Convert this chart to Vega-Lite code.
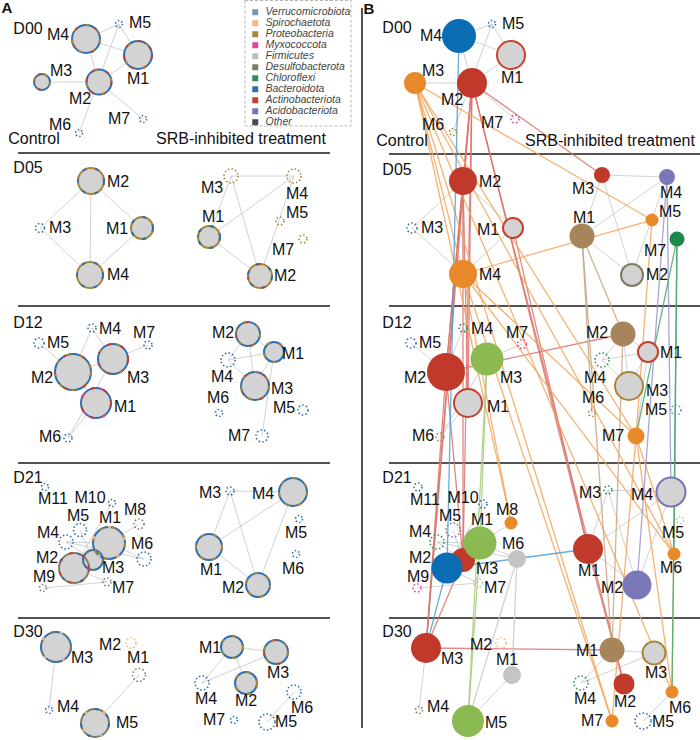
{
"$schema":"https://vega.github.io/schema/vega-lite/v6.json",
"width":700,"height":740,"autosize":{"type":"none"},"padding":0,"background":"white",
"config":{"view":{"stroke":null},"text":{"font":"Liberation Sans"}},
"resolve":{"scale":{"stroke":"independent"}},
"datasets":{
"nodes":[
{"id":"A00cM4","m":"M4","x":86,"y":39,"d":28,"k":"ring","c1":"Bacteroidota","c2":"Proteobacteria","c3":"Actinobacteriota","lx":58,"ly":35},
{"id":"A00cM5","m":"M5","x":119,"y":24,"d":7,"k":"dots","c1":"Bacteroidota","lx":140,"ly":23},
{"id":"A00cM1","m":"M1","x":138,"y":55,"d":28,"k":"ring","c1":"Bacteroidota","c2":"Actinobacteriota","c3":"Proteobacteria","lx":138,"ly":79},
{"id":"A00cM3","m":"M3","x":42,"y":82,"d":16,"k":"ring","c1":"Bacteroidota","c2":"Proteobacteria","c3":"Actinobacteriota","lx":61,"ly":71},
{"id":"A00cM2","m":"M2","x":99,"y":82,"d":25,"k":"ring","c1":"Bacteroidota","c2":"Actinobacteriota","c3":"Proteobacteria","lx":80,"ly":99},
{"id":"A00cM6","m":"M6","x":79,"y":133,"d":7,"k":"dots","c1":"Bacteroidota","lx":60,"ly":125},
{"id":"A00cM7","m":"M7","x":143,"y":119,"d":7,"k":"dots","c1":"Bacteroidota","lx":119,"ly":119},
{"id":"A05cM2","m":"M2","x":91,"y":181,"d":26,"k":"ring","c1":"Proteobacteria","c2":"Bacteroidota","lx":118,"ly":182},
{"id":"A05cM3","m":"M3","x":40,"y":228,"d":9,"k":"dots","c1":"Bacteroidota","lx":60,"ly":228},
{"id":"A05cM1","m":"M1","x":142,"y":228,"d":22,"k":"ring","c1":"Proteobacteria","c2":"Bacteroidota","lx":117,"ly":229},
{"id":"A05cM4","m":"M4","x":90,"y":275,"d":26,"k":"ring","c1":"Proteobacteria","c2":"Bacteroidota","lx":118,"ly":275},
{"id":"A05sM3","m":"M3","x":231,"y":176,"d":14,"k":"dots","c1":"Proteobacteria","lx":212,"ly":188},
{"id":"A05sM4","m":"M4","x":294,"y":176,"d":14,"k":"dots","c1":"Proteobacteria","lx":297,"ly":194},
{"id":"A05sM5","m":"M5","x":280,"y":221,"d":8,"k":"dots","c1":"Proteobacteria","lx":297,"ly":213},
{"id":"A05sM7","m":"M7","x":303,"y":239,"d":8,"k":"dots","c1":"Proteobacteria","lx":283,"ly":250},
{"id":"A05sM1","m":"M1","x":209,"y":237,"d":22,"k":"ring","c1":"Proteobacteria","c2":"Bacteroidota","c3":"Chloroflexi","lx":213,"ly":217},
{"id":"A05sM2","m":"M2","x":260,"y":276,"d":24,"k":"ring","c1":"Proteobacteria","c2":"Bacteroidota","c3":"Actinobacteriota","lx":285,"ly":276},
{"id":"A12cM5","m":"M5","x":39,"y":343,"d":10,"k":"dots","c1":"Bacteroidota","lx":58,"ly":343},
{"id":"A12cM4","m":"M4","x":92,"y":328,"d":8,"k":"dots","c1":"Bacteroidota","lx":110,"ly":329},
{"id":"A12cM7","m":"M7","x":148,"y":345,"d":8,"k":"dots","c1":"Bacteroidota","lx":144,"ly":333},
{"id":"A12cM2","m":"M2","x":73,"y":372,"d":36,"k":"ring","c1":"Bacteroidota","c2":"Proteobacteria","c3":"Actinobacteriota","lx":42,"ly":378},
{"id":"A12cM3","m":"M3","x":113,"y":359,"d":30,"k":"ring","c1":"Bacteroidota","c2":"Actinobacteriota","c3":"Proteobacteria","lx":138,"ly":378},
{"id":"A12cM1","m":"M1","x":96,"y":403,"d":30,"k":"ring","c1":"Bacteroidota","c2":"Actinobacteriota","c3":"Myxococcota","lx":125,"ly":407},
{"id":"A12cM6","m":"M6","x":68,"y":438,"d":8,"k":"dots","c1":"Bacteroidota","lx":50,"ly":437},
{"id":"A12sM2","m":"M2","x":248,"y":334,"d":24,"k":"ring","c1":"Bacteroidota","c2":"Proteobacteria","c3":"Actinobacteriota","lx":223,"ly":333},
{"id":"A12sM1","m":"M1","x":274,"y":352,"d":20,"k":"ring","c1":"Bacteroidota","c2":"Proteobacteria","lx":293,"ly":354},
{"id":"A12sM4","m":"M4","x":228,"y":360,"d":14,"k":"dots","c1":"Bacteroidota","lx":222,"ly":377},
{"id":"A12sM3","m":"M3","x":255,"y":386,"d":28,"k":"ring","c1":"Bacteroidota","c2":"Proteobacteria","c3":"Actinobacteriota","lx":282,"ly":389},
{"id":"A12sM6","m":"M6","x":219,"y":413,"d":7,"k":"dots","c1":"Bacteroidota","lx":218,"ly":398},
{"id":"A12sM5","m":"M5","x":303,"y":410,"d":10,"k":"dots","c1":"Bacteroidota","lx":284,"ly":408},
{"id":"A12sM7","m":"M7","x":262,"y":436,"d":12,"k":"dots","c1":"Bacteroidota","lx":239,"ly":436},
{"id":"A21cM11","m":"M11","x":45,"y":487,"d":7,"k":"dots","c1":"Bacteroidota","lx":53,"ly":499},
{"id":"A21cM10","m":"M10","x":112,"y":503,"d":7,"k":"dots","c1":"Bacteroidota","lx":90,"ly":498},
{"id":"A21cM8","m":"M8","x":139,"y":524,"d":10,"k":"dots","c1":"Desulfobacterota","lx":135,"ly":510},
{"id":"A21cM5","m":"M5","x":80,"y":530,"d":13,"k":"dots","c1":"Bacteroidota","lx":78,"ly":516},
{"id":"A21cM1","m":"M1","x":109,"y":543,"d":32,"k":"ring","c1":"Bacteroidota","c2":"Proteobacteria","c3":"Spirochaetota","lx":110,"ly":518},
{"id":"A21cM4","m":"M4","x":66,"y":542,"d":14,"k":"dots","c1":"Bacteroidota","lx":48,"ly":533},
{"id":"A21cM6","m":"M6","x":144,"y":559,"d":14,"k":"dots","c1":"Bacteroidota","lx":142,"ly":544},
{"id":"A21cM3","m":"M3","x":93,"y":560,"d":20,"k":"ring","c1":"Bacteroidota","c2":"Desulfobacterota","lx":113,"ly":568},
{"id":"A21cM2","m":"M2","x":74,"y":568,"d":30,"k":"ring","c1":"Desulfobacterota","c2":"Actinobacteriota","c3":"Bacteroidota","lx":47,"ly":558},
{"id":"A21cM9","m":"M9","x":43,"y":588,"d":7,"k":"dots","c1":"Desulfobacterota","lx":44,"ly":577},
{"id":"A21cM7","m":"M7","x":107,"y":582,"d":8,"k":"dots","c1":"Desulfobacterota","lx":123,"ly":588},
{"id":"A21sM3","m":"M3","x":230,"y":491,"d":8,"k":"dots","c1":"Bacteroidota","lx":210,"ly":493},
{"id":"A21sM4","m":"M4","x":293,"y":492,"d":28,"k":"ring","c1":"Bacteroidota","c2":"Proteobacteria","lx":263,"ly":494},
{"id":"A21sM5","m":"M5","x":299,"y":519,"d":7,"k":"dots","c1":"Bacteroidota","lx":296,"ly":533},
{"id":"A21sM6","m":"M6","x":296,"y":554,"d":7,"k":"dots","c1":"Bacteroidota","lx":293,"ly":569},
{"id":"A21sM1","m":"M1","x":209,"y":547,"d":26,"k":"ring","c1":"Bacteroidota","c2":"Proteobacteria","lx":211,"ly":570},
{"id":"A21sM2","m":"M2","x":258,"y":585,"d":24,"k":"ring","c1":"Bacteroidota","c2":"Proteobacteria","lx":233,"ly":588},
{"id":"A30cM3","m":"M3","x":56,"y":647,"d":30,"k":"ring","c1":"Bacteroidota","c2":"Desulfobacterota","c3":"Spirochaetota","lx":82,"ly":658},
{"id":"A30cM2","m":"M2","x":131,"y":643,"d":10,"k":"dots","c1":"Spirochaetota","lx":110,"ly":645},
{"id":"A30cM1","m":"M1","x":139,"y":675,"d":13,"k":"dots","c1":"Desulfobacterota","lx":138,"ly":658},
{"id":"A30cM4","m":"M4","x":49,"y":710,"d":7,"k":"dots","c1":"Bacteroidota","lx":68,"ly":707},
{"id":"A30cM5","m":"M5","x":95,"y":723,"d":28,"k":"ring","c1":"Desulfobacterota","c2":"Bacteroidota","c3":"Spirochaetota","lx":127,"ly":723},
{"id":"A30sM1","m":"M1","x":232,"y":647,"d":22,"k":"ring","c1":"Bacteroidota","c2":"Proteobacteria","lx":210,"ly":648},
{"id":"A30sM3","m":"M3","x":276,"y":652,"d":24,"k":"ring","c1":"Bacteroidota","c2":"Proteobacteria","c3":"Actinobacteriota","lx":278,"ly":673},
{"id":"A30sM4","m":"M4","x":202,"y":683,"d":14,"k":"dots","c1":"Bacteroidota","lx":206,"ly":699},
{"id":"A30sM2","m":"M2","x":246,"y":683,"d":22,"k":"ring","c1":"Bacteroidota","c2":"Proteobacteria","lx":246,"ly":701},
{"id":"A30sM6","m":"M6","x":294,"y":692,"d":14,"k":"dots","c1":"Bacteroidota","lx":302,"ly":708},
{"id":"A30sM7","m":"M7","x":234,"y":720,"d":7,"k":"dots","c1":"Bacteroidota","lx":214,"ly":720},
{"id":"A30sM5","m":"M5","x":267,"y":722,"d":16,"k":"dots","c1":"Bacteroidota","lx":286,"ly":722},
{"id":"B00cM4","m":"M4","x":459,"y":36,"d":34,"k":"fill","g":"C","lx":431,"ly":36},
{"id":"B00cM5","m":"M5","x":492,"y":24,"d":7,"k":"dots","c1":"Bacteroidota","lx":513,"ly":24},
{"id":"B00cM1","m":"M1","x":511,"y":55,"d":28,"k":"ring1","c1":"Actinobacteriota","lx":512,"ly":78},
{"id":"B00cM3","m":"M3","x":415,"y":83,"d":22,"k":"fill","g":"B","lx":433,"ly":71},
{"id":"B00cM2","m":"M2","x":472,"y":83,"d":30,"k":"fill","g":"A","lx":452,"ly":100},
{"id":"B00cM6","m":"M6","x":453,"y":132,"d":7,"k":"dots","c1":"Proteobacteria","lx":433,"ly":125},
{"id":"B00cM7","m":"M7","x":515,"y":119,"d":8,"k":"dots","c1":"Myxococcota","lx":492,"ly":123},
{"id":"B05cM2","m":"M2","x":463,"y":181,"d":28,"k":"fill","g":"A","lx":490,"ly":182},
{"id":"B05cM3","m":"M3","x":412,"y":228,"d":10,"k":"dots","c1":"Bacteroidota","lx":432,"ly":228},
{"id":"B05cM1","m":"M1","x":513,"y":228,"d":20,"k":"ring1","c1":"Actinobacteriota","lx":488,"ly":230},
{"id":"B05cM4","m":"M4","x":463,"y":274,"d":28,"k":"fill","g":"B","lx":490,"ly":275},
{"id":"B05sM3","m":"M3","x":602,"y":175,"d":16,"k":"fill","g":"A","lx":583,"ly":189},
{"id":"B05sM4","m":"M4","x":667,"y":177,"d":16,"k":"fill","g":"F","lx":671,"ly":193},
{"id":"B05sM5","m":"M5","x":652,"y":220,"d":13,"k":"fill","g":"B","lx":670,"ly":212},
{"id":"B05sM1","m":"M1","x":582,"y":236,"d":25,"k":"fill","g":"E","lx":584,"ly":218},
{"id":"B05sM7","m":"M7","x":677,"y":239,"d":15,"k":"fill","g":"G","lx":655,"ly":251},
{"id":"B05sM2","m":"M2","x":632,"y":275,"d":22,"k":"ring1","c1":"Desulfobacterota","lx":657,"ly":275},
{"id":"B12cM5","m":"M5","x":411,"y":343,"d":10,"k":"dots","c1":"Bacteroidota","lx":430,"ly":343},
{"id":"B12cM4","m":"M4","x":463,"y":328,"d":8,"k":"dots","c1":"Chloroflexi","lx":482,"ly":329},
{"id":"B12cM7","m":"M7","x":522,"y":344,"d":9,"k":"dots","c1":"Myxococcota","lx":517,"ly":333},
{"id":"B12cM2","m":"M2","x":446,"y":372,"d":38,"k":"fill","g":"A","lx":415,"ly":378},
{"id":"B12cM3","m":"M3","x":487,"y":359,"d":33,"k":"fill","g":"D","lx":511,"ly":378},
{"id":"B12cM1","m":"M1","x":468,"y":403,"d":28,"k":"ring1","c1":"Actinobacteriota","lx":498,"ly":407},
{"id":"B12cM6","m":"M6","x":440,"y":437,"d":8,"k":"dots","c1":"Proteobacteria","lx":423,"ly":436},
{"id":"B12sM2","m":"M2","x":623,"y":334,"d":25,"k":"fill","g":"E","lx":597,"ly":333},
{"id":"B12sM1","m":"M1","x":648,"y":352,"d":20,"k":"ring1","c1":"Actinobacteriota","lx":671,"ly":353},
{"id":"B12sM4","m":"M4","x":602,"y":360,"d":14,"k":"dots","c1":"Chloroflexi","lx":595,"ly":378},
{"id":"B12sM3","m":"M3","x":629,"y":386,"d":28,"k":"ring1","c1":"Proteobacteria","lx":657,"ly":391},
{"id":"B12sM6","m":"M6","x":592,"y":413,"d":7,"k":"dots","c1":"Proteobacteria","lx":593,"ly":398},
{"id":"B12sM5","m":"M5","x":676,"y":410,"d":10,"k":"dots","c1":"Verrucomicrobiota","lx":656,"ly":410},
{"id":"B12sM7","m":"M7","x":636,"y":436,"d":17,"k":"fill","g":"B","lx":613,"ly":436},
{"id":"B21cM11","m":"M11","x":418,"y":487,"d":8,"k":"dots","c1":"Chloroflexi","lx":425,"ly":500},
{"id":"B21cM10","m":"M10","x":483,"y":504,"d":8,"k":"dots","c1":"Bacteroidota","lx":463,"ly":498},
{"id":"B21cM8","m":"M8","x":511,"y":523,"d":13,"k":"fill","g":"B","lx":507,"ly":510},
{"id":"B21cM5","m":"M5","x":453,"y":530,"d":14,"k":"dots","c1":"Acidobacteriota","lx":450,"ly":516},
{"id":"B21cM4","m":"M4","x":437,"y":542,"d":14,"k":"dots","c1":"Chloroflexi","lx":420,"ly":532},
{"id":"B21cM6","m":"M6","x":517,"y":559,"d":18,"k":"fill","g":"H","lx":513,"ly":544},
{"id":"B21cM3","m":"M3","x":463,"y":560,"d":24,"k":"fill","g":"A","lx":487,"ly":569},
{"id":"B21cM1","m":"M1","x":480,"y":543,"d":33,"k":"fill","g":"D","lx":482,"ly":520},
{"id":"B21cM2","m":"M2","x":447,"y":568,"d":31,"k":"fill","g":"C","lx":420,"ly":558},
{"id":"B21cM9","m":"M9","x":417,"y":588,"d":8,"k":"dots","c1":"Myxococcota","lx":418,"ly":577},
{"id":"B21cM7","m":"M7","x":478,"y":583,"d":9,"k":"dots","c1":"Firmicutes","lx":495,"ly":588},
{"id":"B21sM3","m":"M3","x":608,"y":490,"d":8,"k":"dots","c1":"Chloroflexi","lx":590,"ly":493},
{"id":"B21sM4","m":"M4","x":671,"y":492,"d":29,"k":"ring1","c1":"Acidobacteriota","lx":642,"ly":495},
{"id":"B21sM5","m":"M5","x":680,"y":520,"d":7,"k":"dots","c1":"Firmicutes","lx":673,"ly":533},
{"id":"B21sM6","m":"M6","x":674,"y":554,"d":13,"k":"fill","g":"B","lx":671,"ly":568},
{"id":"B21sM1","m":"M1","x":588,"y":549,"d":30,"k":"fill","g":"A","lx":589,"ly":571},
{"id":"B21sM2","m":"M2","x":637,"y":585,"d":29,"k":"fill","g":"F","lx":612,"ly":588},
{"id":"B30cM3","m":"M3","x":426,"y":648,"d":30,"k":"fill","g":"A","lx":452,"ly":659},
{"id":"B30cM2","m":"M2","x":501,"y":643,"d":10,"k":"dots","c1":"Spirochaetota","lx":481,"ly":645},
{"id":"B30cM1","m":"M1","x":512,"y":675,"d":18,"k":"fill","g":"H","lx":507,"ly":660},
{"id":"B30cM4","m":"M4","x":419,"y":710,"d":7,"k":"dots","c1":"Desulfobacterota","lx":438,"ly":707},
{"id":"B30cM5","m":"M5","x":468,"y":721,"d":32,"k":"fill","g":"D","lx":496,"ly":723},
{"id":"B30sM1","m":"M1","x":612,"y":650,"d":25,"k":"fill","g":"E","lx":587,"ly":651},
{"id":"B30sM3","m":"M3","x":654,"y":653,"d":23,"k":"ring1","c1":"Proteobacteria","lx":656,"ly":673},
{"id":"B30sM4","m":"M4","x":581,"y":683,"d":14,"k":"dots","c1":"Chloroflexi","lx":585,"ly":699},
{"id":"B30sM2","m":"M2","x":624,"y":684,"d":21,"k":"fill","g":"A","lx":625,"ly":702},
{"id":"B30sM6","m":"M6","x":672,"y":692,"d":13,"k":"fill","g":"B","lx":680,"ly":708},
{"id":"B30sM7","m":"M7","x":612,"y":721,"d":13,"k":"fill","g":"B","lx":592,"ly":721},
{"id":"B30sM5","m":"M5","x":643,"y":721,"d":16,"k":"dots","c1":"Bacteroidota","lx":663,"ly":722}
],
"edges":[
{"s":"A00cM4","t":"A00cM5","g":"none"},{"s":"A00cM4","t":"A00cM1","g":"none"},{"s":"A00cM4","t":"A00cM2","g":"none"},{"s":"A00cM5","t":"A00cM1","g":"none"},{"s":"A00cM5","t":"A00cM6","g":"none"},{"s":"A00cM1","t":"A00cM2","g":"none"},{"s":"A00cM3","t":"A00cM2","g":"none"},{"s":"A00cM2","t":"A00cM7","g":"none"},
{"s":"A05cM3","t":"A05cM2","g":"none"},{"s":"A05cM3","t":"A05cM4","g":"none"},{"s":"A05cM2","t":"A05cM4","g":"none"},{"s":"A05cM2","t":"A05cM1","g":"none"},{"s":"A05cM1","t":"A05cM4","g":"none"},
{"s":"A05sM3","t":"A05sM4","g":"none"},{"s":"A05sM3","t":"A05sM1","g":"none"},{"s":"A05sM3","t":"A05sM2","g":"none"},{"s":"A05sM1","t":"A05sM4","g":"none"},{"s":"A05sM1","t":"A05sM2","g":"none"},{"s":"A05sM4","t":"A05sM2","g":"none"},
{"s":"A12cM5","t":"A12cM2","g":"none"},{"s":"A12cM4","t":"A12cM2","g":"none"},{"s":"A12cM4","t":"A12cM3","g":"none"},{"s":"A12cM2","t":"A12cM3","g":"none"},{"s":"A12cM2","t":"A12cM1","g":"none"},{"s":"A12cM3","t":"A12cM7","g":"none"},{"s":"A12cM3","t":"A12cM6","g":"none"},{"s":"A12cM1","t":"A12cM6","g":"none"},
{"s":"A12sM2","t":"A12sM1","g":"none"},{"s":"A12sM2","t":"A12sM4","g":"none"},{"s":"A12sM2","t":"A12sM3","g":"none"},{"s":"A12sM4","t":"A12sM1","g":"none"},{"s":"A12sM4","t":"A12sM3","g":"none"},{"s":"A12sM1","t":"A12sM3","g":"none"},{"s":"A12sM1","t":"A12sM7","g":"none"},
{"s":"A21cM4","t":"A21cM1","g":"none"},{"s":"A21cM4","t":"A21cM3","g":"none"},{"s":"A21cM5","t":"A21cM3","g":"none"},{"s":"A21cM1","t":"A21cM3","g":"none"},{"s":"A21cM1","t":"A21cM8","g":"none"},{"s":"A21cM1","t":"A21cM6","g":"none"},{"s":"A21cM2","t":"A21cM1","g":"none"},{"s":"A21cM9","t":"A21cM7","g":"none"},{"s":"A21cM2","t":"A21cM7","g":"none"},{"s":"A21cM10","t":"A21cM2","g":"none"},{"s":"A21cM4","t":"A21cM6","g":"none"},
{"s":"A21sM3","t":"A21sM4","g":"none"},{"s":"A21sM3","t":"A21sM1","g":"none"},{"s":"A21sM3","t":"A21sM2","g":"none"},{"s":"A21sM1","t":"A21sM4","g":"none"},{"s":"A21sM1","t":"A21sM2","g":"none"},{"s":"A21sM4","t":"A21sM2","g":"none"},
{"s":"A30cM3","t":"A30cM4","g":"none"},{"s":"A30cM1","t":"A30cM5","g":"none"},
{"s":"A30sM1","t":"A30sM3","g":"none"},{"s":"A30sM1","t":"A30sM4","g":"none"},{"s":"A30sM1","t":"A30sM2","g":"none"},{"s":"A30sM3","t":"A30sM4","g":"none"},{"s":"A30sM6","t":"A30sM5","g":"none"},
{"s":"B00cM4","t":"B00cM5","g":"none"},{"s":"B00cM4","t":"B00cM1","g":"none"},{"s":"B00cM4","t":"B00cM2","g":"none"},{"s":"B00cM5","t":"B00cM1","g":"none"},{"s":"B00cM5","t":"B00cM6","g":"none"},{"s":"B00cM1","t":"B00cM2","g":"none"},{"s":"B00cM3","t":"B00cM2","g":"none"},{"s":"B00cM2","t":"B00cM7","g":"none"},
{"s":"B05cM3","t":"B05cM2","g":"none"},{"s":"B05cM3","t":"B05cM4","g":"none"},{"s":"B05cM2","t":"B05cM4","g":"none"},{"s":"B05cM2","t":"B05cM1","g":"none"},{"s":"B05cM1","t":"B05cM4","g":"none"},
{"s":"B05sM3","t":"B05sM4","g":"none"},{"s":"B05sM3","t":"B05sM1","g":"none"},{"s":"B05sM3","t":"B05sM2","g":"none"},{"s":"B05sM1","t":"B05sM4","g":"none"},{"s":"B05sM1","t":"B05sM2","g":"none"},{"s":"B05sM4","t":"B05sM2","g":"none"},
{"s":"B12cM5","t":"B12cM2","g":"none"},{"s":"B12cM4","t":"B12cM2","g":"none"},{"s":"B12cM4","t":"B12cM3","g":"none"},{"s":"B12cM2","t":"B12cM3","g":"none"},{"s":"B12cM2","t":"B12cM1","g":"none"},{"s":"B12cM3","t":"B12cM7","g":"none"},{"s":"B12cM3","t":"B12cM6","g":"none"},{"s":"B12cM1","t":"B12cM6","g":"none"},
{"s":"B12sM2","t":"B12sM1","g":"none"},{"s":"B12sM2","t":"B12sM4","g":"none"},{"s":"B12sM2","t":"B12sM3","g":"none"},{"s":"B12sM4","t":"B12sM1","g":"none"},{"s":"B12sM4","t":"B12sM3","g":"none"},{"s":"B12sM1","t":"B12sM3","g":"none"},{"s":"B12sM1","t":"B12sM7","g":"none"},
{"s":"B21cM4","t":"B21cM1","g":"none"},{"s":"B21cM4","t":"B21cM3","g":"none"},{"s":"B21cM5","t":"B21cM3","g":"none"},{"s":"B21cM1","t":"B21cM3","g":"none"},{"s":"B21cM1","t":"B21cM8","g":"none"},{"s":"B21cM1","t":"B21cM6","g":"none"},{"s":"B21cM2","t":"B21cM1","g":"none"},{"s":"B21cM9","t":"B21cM7","g":"none"},{"s":"B21cM2","t":"B21cM7","g":"none"},{"s":"B21cM10","t":"B21cM2","g":"none"},{"s":"B21cM4","t":"B21cM6","g":"none"},
{"s":"B21sM3","t":"B21sM4","g":"none"},{"s":"B21sM3","t":"B21sM1","g":"none"},{"s":"B21sM3","t":"B21sM2","g":"none"},{"s":"B21sM1","t":"B21sM4","g":"none"},{"s":"B21sM1","t":"B21sM2","g":"none"},{"s":"B21sM4","t":"B21sM2","g":"none"},
{"s":"B30cM3","t":"B30cM4","g":"none"},{"s":"B30cM1","t":"B30cM5","g":"none"},
{"s":"B30sM1","t":"B30sM3","g":"none"},{"s":"B30sM1","t":"B30sM4","g":"none"},{"s":"B30sM1","t":"B30sM2","g":"none"},{"s":"B30sM3","t":"B30sM4","g":"none"},{"s":"B30sM6","t":"B30sM5","g":"none"},
{"s":"B00cM2","t":"B05cM2","g":"A"},{"s":"B00cM2","t":"B12cM2","g":"A"},{"s":"B00cM2","t":"B12cM1","g":"A"},{"s":"B00cM2","t":"B21cM3","g":"A"},{"s":"B00cM2","t":"B30cM3","g":"A"},{"s":"B00cM2","t":"B05sM3","g":"A"},{"s":"B00cM2","t":"B21sM1","g":"A"},{"s":"B00cM2","t":"B30sM2","g":"A"},{"s":"B05cM2","t":"B12cM2","g":"A"},{"s":"B05cM2","t":"B21cM3","g":"A"},{"s":"B05cM2","t":"B30cM3","g":"A"},{"s":"B05cM2","t":"B12cM1","g":"A"},{"s":"B12cM2","t":"B21cM3","g":"A"},{"s":"B12cM2","t":"B12sM2","g":"A"},{"s":"B12cM2","t":"B30cM3","g":"A"},{"s":"B21cM3","t":"B30cM3","g":"A"},{"s":"B30cM3","t":"B30sM1","g":"A"},{"s":"B21sM1","t":"B30sM2","g":"A"},{"s":"B05cM1","t":"B21sM1","g":"A"},
{"s":"B00cM3","t":"B05cM4","g":"B"},{"s":"B00cM3","t":"B05sM5","g":"B"},{"s":"B00cM3","t":"B21cM8","g":"B"},{"s":"B00cM3","t":"B12sM7","g":"B"},{"s":"B00cM3","t":"B21sM6","g":"B"},{"s":"B00cM3","t":"B30sM6","g":"B"},{"s":"B00cM3","t":"B30sM7","g":"B"},{"s":"B05cM4","t":"B05sM5","g":"B"},{"s":"B05cM4","t":"B21cM8","g":"B"},{"s":"B05cM4","t":"B12sM7","g":"B"},{"s":"B05cM4","t":"B30sM7","g":"B"},{"s":"B05cM4","t":"B21sM6","g":"B"},{"s":"B05sM5","t":"B12sM7","g":"B"},{"s":"B12sM7","t":"B21sM6","g":"B"},{"s":"B12sM7","t":"B30sM7","g":"B"},{"s":"B12sM7","t":"B30sM6","g":"B"},{"s":"B21sM6","t":"B30sM6","g":"B"},
{"s":"B00cM4","t":"B21cM2","g":"C"},{"s":"B21cM2","t":"B21sM1","g":"C"},{"s":"B21cM2","t":"B30cM3","g":"C"},
{"s":"B12cM3","t":"B21cM1","g":"D"},{"s":"B12cM3","t":"B30cM5","g":"D"},{"s":"B21cM1","t":"B30cM5","g":"D"},
{"s":"B05sM1","t":"B12sM2","g":"E"},{"s":"B05sM1","t":"B12sM6","g":"E"},{"s":"B12sM2","t":"B30sM1","g":"E"},{"s":"B05sM1","t":"B30sM1","g":"E"},
{"s":"B05sM4","t":"B21sM2","g":"F"},{"s":"B05sM4","t":"B21sM4","g":"F"},
{"s":"B05sM7","t":"B12sM7","g":"G"},{"s":"B05sM7","t":"B21sM6","g":"G"},{"s":"B05sM7","t":"B30sM6","g":"G"},
{"s":"B21cM6","t":"B30cM1","g":"H"},{"s":"B21cM6","t":"B30cM5","g":"H"}
],
"texts":[
{"x":7,"y":8,"text":"A","k":"pan"},{"x":369,"y":9,"text":"B","k":"pan"},
{"x":28,"y":29,"text":"D00","k":"lab"},{"x":28,"y":168,"text":"D05","k":"lab"},{"x":28,"y":323,"text":"D12","k":"lab"},{"x":28,"y":478,"text":"D21","k":"lab"},{"x":28,"y":632,"text":"D30","k":"lab"},
{"x":397,"y":28,"text":"D00","k":"lab"},{"x":397,"y":170,"text":"D05","k":"lab"},{"x":397,"y":323,"text":"D12","k":"lab"},{"x":397,"y":478,"text":"D21","k":"lab"},{"x":397,"y":632,"text":"D30","k":"lab"},
{"x":34,"y":139,"text":"Control","k":"lab"},{"x":241,"y":139,"text":"SRB-inhibited treatment","k":"lab"},
{"x":402,"y":141,"text":"Control","k":"lab"},{"x":610,"y":141,"text":"SRB-inhibited treatment","k":"lab"}
],
"frame":[
{"x":18,"y":153,"x2":330,"y2":153},{"x":18,"y":306,"x2":330,"y2":306},{"x":18,"y":463,"x2":330,"y2":463},{"x":18,"y":618,"x2":330,"y2":618},
{"x":389,"y":154,"x2":700,"y2":154},{"x":389,"y":306,"x2":700,"y2":306},{"x":389,"y":463,"x2":700,"y2":463},{"x":389,"y":618,"x2":700,"y2":618},
{"x":362,"y":8,"x2":362,"y2":728}
],
"legendbox":[{"x":245,"y":0.5,"x2":351,"y2":126}]
},
"layer":[
{"data":{"name":"legendbox"},"mark":{"type":"rect","fill":null,"stroke":"#b5b5b5","strokeWidth":1,"strokeDash":[3,2]},
 "encoding":{"x":{"field":"x","type":"quantitative","scale":{"domain":[0,700],"nice":false,"zero":false},"axis":null},
  "y":{"field":"y","type":"quantitative","scale":{"domain":[0,740],"nice":false,"zero":false,"reverse":true},"axis":null},
  "x2":{"field":"x2"},"y2":{"field":"y2"}}},
{"data":{"name":"nodes"},"transform":[{"filter":"datum.k === 'legendonly'"}],
 "mark":{"type":"square","opacity":1,"filled":true},
 "encoding":{"x":{"field":"x","type":"quantitative","scale":{"domain":[0,700],"nice":false,"zero":false},"axis":null},
  "y":{"field":"y","type":"quantitative","scale":{"domain":[0,740],"nice":false,"zero":false,"reverse":true},"axis":null},
  "color":{"field":"c1","type":"nominal",
   "scale":{"domain":["Verrucomicrobiota","Spirochaetota","Proteobacteria","Myxococcota","Firmicutes","Desulfobacterota","Chloroflexi","Bacteroidota","Actinobacteriota","Acidobacteriota","Other"],
    "range":["#7795bd","#f6b683","#a8873a","#e0479e","#bcc2b2","#7e7c62","#2f8d5d","#2f6fae","#c7402f","#7476b5","#4a4a4a"]},
   "legend":{"title":null,"orient":"none","legendX":245,"legendY":2,"direction":"vertical","symbolType":"square","symbolSize":36,"symbolStrokeWidth":0,"symbolOpacity":1,
    "labelFontSize":10.5,"labelFont":"Liberation Sans","labelFontStyle":"italic","labelColor":"#444444","rowPadding":0,"padding":5,"labelOffset":5}}}},
{"data":{"name":"frame"},"mark":{"type":"rule","color":"#1a1a1a","strokeWidth":1.5},
 "encoding":{"x":{"field":"x","type":"quantitative","scale":{"domain":[0,700],"nice":false,"zero":false},"axis":null},
  "y":{"field":"y","type":"quantitative","scale":{"domain":[0,740],"nice":false,"zero":false,"reverse":true},"axis":null},
  "x2":{"field":"x2"},"y2":{"field":"y2"}}},
{"data":{"name":"edges"},
 "transform":[{"lookup":"s","from":{"data":{"name":"nodes"},"key":"id","fields":["x","y"]},"as":["sx","sy"]},
  {"lookup":"t","from":{"data":{"name":"nodes"},"key":"id","fields":["x","y"]},"as":["tx","ty"]},
  {"filter":"datum.g === 'none'"}],
 "mark":{"type":"rule","color":"#c6c6c6","strokeWidth":0.8},
 "encoding":{"x":{"field":"sx","type":"quantitative","scale":{"domain":[0,700],"nice":false,"zero":false},"axis":null},
  "y":{"field":"sy","type":"quantitative","scale":{"domain":[0,740],"nice":false,"zero":false,"reverse":true},"axis":null},
  "x2":{"field":"tx"},"y2":{"field":"ty"}}},
{"data":{"name":"edges"},
 "transform":[{"lookup":"s","from":{"data":{"name":"nodes"},"key":"id","fields":["x","y"]},"as":["sx","sy"]},
  {"lookup":"t","from":{"data":{"name":"nodes"},"key":"id","fields":["x","y"]},"as":["tx","ty"]},
  {"filter":"datum.g !== 'none'"}],
 "mark":{"type":"rule","strokeWidth":1.3,"opacity":0.85},
 "encoding":{"x":{"field":"sx","type":"quantitative","scale":{"domain":[0,700],"nice":false,"zero":false},"axis":null},
  "y":{"field":"sy","type":"quantitative","scale":{"domain":[0,740],"nice":false,"zero":false,"reverse":true},"axis":null},
  "x2":{"field":"tx"},"y2":{"field":"ty"},
  "stroke":{"field":"g","type":"nominal","legend":null,"scale":{"domain":["A","B","C","D","E","F","G","H"],"range":["#d9736a","#f3a55b","#4f9fd6","#a6cc7e","#c9a680","#9a97d0","#4aa870","#c8c8c8"]}}}},
{"data":{"name":"nodes"},"transform":[{"filter":"datum.k === 'fill'"}],
 "mark":{"type":"circle","opacity":1},
 "encoding":{"x":{"field":"x","type":"quantitative","scale":{"domain":[0,700],"nice":false,"zero":false},"axis":null},
  "y":{"field":"y","type":"quantitative","scale":{"domain":[0,740],"nice":false,"zero":false,"reverse":true},"axis":null},
  "size":{"field":"d","type":"quantitative","legend":null,"scale":{"type":"pow","exponent":2,"domain":[0,40],"range":[0,1600]}},
  "fill":{"field":"g","type":"nominal","legend":null,"scale":{"domain":["A","B","C","D","E","F","G","H"],"range":["#c0392b","#e8892a","#0a6db3","#8cba52","#a8845a","#7b78b8","#1d8a4c","#c4c4c4"]}}}},
{"data":{"name":"nodes"},"transform":[{"filter":"datum.k === 'ring' || datum.k === 'ring1'"}],
 "mark":{"type":"circle","opacity":1,"color":"#d3d3d3"},
 "encoding":{"x":{"field":"x","type":"quantitative","scale":{"domain":[0,700],"nice":false,"zero":false},"axis":null},
  "y":{"field":"y","type":"quantitative","scale":{"domain":[0,740],"nice":false,"zero":false,"reverse":true},"axis":null},
  "size":{"field":"d","type":"quantitative","legend":null,"scale":{"type":"pow","exponent":2,"domain":[0,40],"range":[0,1600]}}}},
{"data":{"name":"nodes"},"transform":[{"filter":"datum.k === 'ring' || datum.k === 'ring1'"}],
 "mark":{"type":"point","shape":"circle","filled":false,"opacity":1,"strokeWidth":2},
 "encoding":{"x":{"field":"x","type":"quantitative","scale":{"domain":[0,700],"nice":false,"zero":false},"axis":null},
  "y":{"field":"y","type":"quantitative","scale":{"domain":[0,740],"nice":false,"zero":false,"reverse":true},"axis":null},
  "size":{"field":"d","type":"quantitative","legend":null,"scale":{"type":"pow","exponent":2,"domain":[0,40],"range":[0,1600]}},
  "stroke":{"field":"c1","type":"nominal","legend":null,
   "scale":{"domain":["Verrucomicrobiota","Spirochaetota","Proteobacteria","Myxococcota","Firmicutes","Desulfobacterota","Chloroflexi","Bacteroidota","Actinobacteriota","Acidobacteriota","Other"],
    "range":["#7795bd","#f6b683","#a8873a","#e0479e","#bcc2b2","#7e7c62","#2f8d5d","#2f6fae","#c7402f","#7476b5","#4a4a4a"]}}}},
{"data":{"name":"nodes"},"transform":[{"filter":"datum.k === 'ring' && datum.c2"}],
 "mark":{"type":"point","shape":"circle","filled":false,"opacity":1,"strokeWidth":2,"strokeDash":[4,9]},
 "encoding":{"x":{"field":"x","type":"quantitative","scale":{"domain":[0,700],"nice":false,"zero":false},"axis":null},
  "y":{"field":"y","type":"quantitative","scale":{"domain":[0,740],"nice":false,"zero":false,"reverse":true},"axis":null},
  "size":{"field":"d","type":"quantitative","legend":null,"scale":{"type":"pow","exponent":2,"domain":[0,40],"range":[0,1600]}},
  "stroke":{"field":"c2","type":"nominal","legend":null,
   "scale":{"domain":["Verrucomicrobiota","Spirochaetota","Proteobacteria","Myxococcota","Firmicutes","Desulfobacterota","Chloroflexi","Bacteroidota","Actinobacteriota","Acidobacteriota","Other"],
    "range":["#7795bd","#f6b683","#a8873a","#e0479e","#bcc2b2","#7e7c62","#2f8d5d","#2f6fae","#c7402f","#7476b5","#4a4a4a"]}}}},
{"data":{"name":"nodes"},"transform":[{"filter":"datum.k === 'ring' && datum.c3"}],
 "mark":{"type":"point","shape":"circle","filled":false,"opacity":1,"strokeWidth":2,"strokeDash":[3,17],"strokeDashOffset":6},
 "encoding":{"x":{"field":"x","type":"quantitative","scale":{"domain":[0,700],"nice":false,"zero":false},"axis":null},
  "y":{"field":"y","type":"quantitative","scale":{"domain":[0,740],"nice":false,"zero":false,"reverse":true},"axis":null},
  "size":{"field":"d","type":"quantitative","legend":null,"scale":{"type":"pow","exponent":2,"domain":[0,40],"range":[0,1600]}},
  "stroke":{"field":"c3","type":"nominal","legend":null,
   "scale":{"domain":["Verrucomicrobiota","Spirochaetota","Proteobacteria","Myxococcota","Firmicutes","Desulfobacterota","Chloroflexi","Bacteroidota","Actinobacteriota","Acidobacteriota","Other"],
    "range":["#7795bd","#f6b683","#a8873a","#e0479e","#bcc2b2","#7e7c62","#2f8d5d","#2f6fae","#c7402f","#7476b5","#4a4a4a"]}}}},
{"data":{"name":"nodes"},"transform":[{"filter":"datum.k === 'dots'"}],
 "mark":{"type":"point","shape":"circle","filled":false,"opacity":1,"strokeWidth":1.6,"strokeDash":[1.5,2.2]},
 "encoding":{"x":{"field":"x","type":"quantitative","scale":{"domain":[0,700],"nice":false,"zero":false},"axis":null},
  "y":{"field":"y","type":"quantitative","scale":{"domain":[0,740],"nice":false,"zero":false,"reverse":true},"axis":null},
  "size":{"field":"d","type":"quantitative","legend":null,"scale":{"type":"pow","exponent":2,"domain":[0,40],"range":[0,1600]}},
  "stroke":{"field":"c1","type":"nominal","legend":null,
   "scale":{"domain":["Verrucomicrobiota","Spirochaetota","Proteobacteria","Myxococcota","Firmicutes","Desulfobacterota","Chloroflexi","Bacteroidota","Actinobacteriota","Acidobacteriota","Other"],
    "range":["#7795bd","#f6b683","#a8873a","#e0479e","#bcc2b2","#7e7c62","#2f8d5d","#2f6fae","#c7402f","#7476b5","#4a4a4a"]}}}},
{"data":{"name":"nodes"},
 "mark":{"type":"text","fontSize":16,"font":"Liberation Sans","color":"#111111","align":"center","baseline":"middle"},
 "encoding":{"x":{"field":"lx","type":"quantitative","scale":{"domain":[0,700],"nice":false,"zero":false},"axis":null},
  "y":{"field":"ly","type":"quantitative","scale":{"domain":[0,740],"nice":false,"zero":false,"reverse":true},"axis":null},
  "text":{"field":"m"}}},
{"data":{"name":"texts"},"transform":[{"filter":"datum.k === 'lab'"}],
 "mark":{"type":"text","fontSize":16,"font":"Liberation Sans","color":"#111111","align":"center","baseline":"middle"},
 "encoding":{"x":{"field":"x","type":"quantitative","scale":{"domain":[0,700],"nice":false,"zero":false},"axis":null},
  "y":{"field":"y","type":"quantitative","scale":{"domain":[0,740],"nice":false,"zero":false,"reverse":true},"axis":null},
  "text":{"field":"text"}}},
{"data":{"name":"texts"},"transform":[{"filter":"datum.k === 'pan'"}],
 "mark":{"type":"text","fontSize":15,"font":"Liberation Sans","fontWeight":"bold","color":"#111111","align":"center","baseline":"middle"},
 "encoding":{"x":{"field":"x","type":"quantitative","scale":{"domain":[0,700],"nice":false,"zero":false},"axis":null},
  "y":{"field":"y","type":"quantitative","scale":{"domain":[0,740],"nice":false,"zero":false,"reverse":true},"axis":null},
  "text":{"field":"text"}}}
]
}
